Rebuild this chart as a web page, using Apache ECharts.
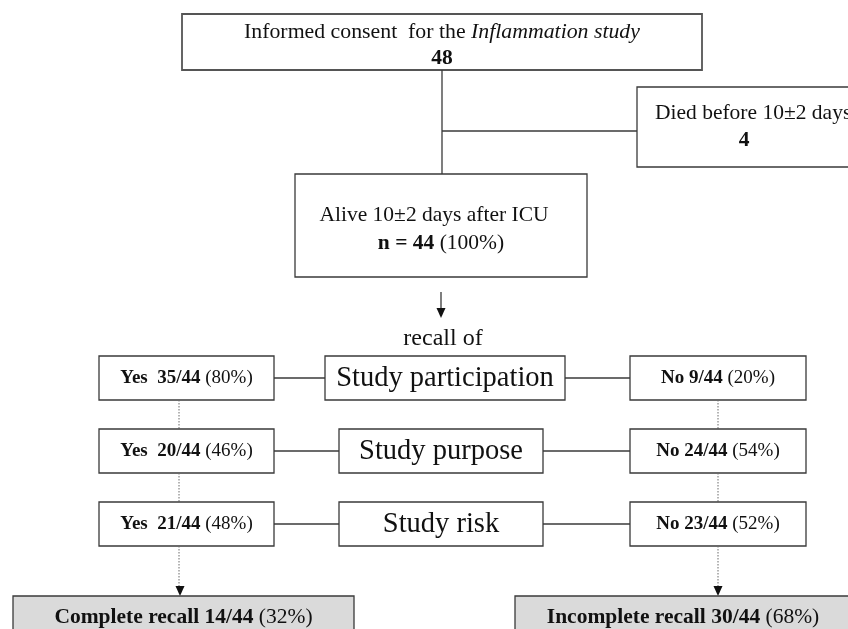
<!DOCTYPE html>
<html><head><meta charset="utf-8">
<script src="https://cdn.jsdelivr.net/npm/echarts@6.0.0/dist/echarts.min.js"></script>
<style>html,body{margin:0;padding:0;background:#fff}#c{width:848px;height:629px}</style>
</head><body><div id="c"></div><script>
// ---- data ----
const consentLabel = 'Informed consent  for the ';
const studyName = 'Inflammation study';
const consentN = 48;
const diedLabel = 'Died before 10\u00b12 days';
const diedN = 4;
const aliveLabel = 'Alive 10\u00b12 days after ICU';
const aliveN = 44;
const alivePct = 100;
const recallTitle = 'recall of';
const recallItems = ['Study participation', 'Study purpose', 'Study risk'];
const yesCounts = [35, 20, 21];
const yesPct = [80, 46, 48];
const noCounts = [9, 24, 23];
const noPct = [20, 54, 52];
const outcomeLabels = ['Complete recall', 'Incomplete recall'];
const outcomeCounts = [14, 30];
const outcomePct = [32, 68];

// ---- layout / style ----
const FONT = 'Liberation Serif';
const LINE = '#3a3a3a';
const rowTop = [356, 429, 502];
const rowH = 44;
const midBox = [[325, 240], [339, 204], [339, 204]];
const yesBox = [99, 175];
const noBox = [630, 176];
const leftX = 179, rightX = 718;

function rect(x, y, w, h, o) {
  o = o || {};
  return {type: 'rect', shape: {x, y, width: w, height: h},
    style: {fill: o.fill || '#fff', stroke: o.stroke || LINE, lineWidth: o.lw || 1.3}};
}
function line(x1, y1, x2, y2, dash) {
  return {type: 'line', shape: {x1, y1, x2, y2},
    style: {stroke: dash ? '#6a6a6a' : LINE, lineWidth: dash ? 1 : 1.3, lineDash: dash ? [1.5, 1.5] : null}};
}
function rich(size) {
  return {
    b: {fontFamily: FONT, fontSize: size, fontWeight: 'bold', fill: '#111'},
    i: {fontFamily: FONT, fontSize: size, fontStyle: 'italic', fill: '#111'},
    n: {fontFamily: FONT, fontSize: size, fill: '#111'}
  };
}
function txt(x, y, text, size, align) {
  return {type: 'text', x, y, style: {text, fontFamily: FONT, fontSize: size, fill: '#111',
    align: align || 'center', verticalAlign: 'middle', rich: rich(size)}};
}
function head(x, y) {
  return {type: 'polygon', shape: {points: [[x - 4.5, y - 10], [x + 4.5, y - 10], [x, y]]}, style: {fill: '#111'}};
}

const els = [];
// top box
els.push(rect(182, 14, 520, 56, {stroke: '#555', lw: 1.8}));
els.push(txt(442, 32, '{n|' + consentLabel + '}{i|' + studyName + '}', 21.8));
els.push(txt(442, 58, '{b|' + consentN + '}', 21.5));
els.push(line(442, 70, 442, 174));
els.push(line(442, 131, 637, 131));
// died box
els.push(rect(637, 87, 230, 80));
els.push(txt(655, 113, diedLabel, 21.5, 'left'));
els.push(txt(744, 140, '{b|' + diedN + '}', 21.5));
// alive box
els.push(rect(295, 174, 292, 103));
els.push(txt(434, 215, aliveLabel, 21.5));
els.push(txt(441, 243, '{b|n = ' + aliveN + '} (' + alivePct + '%)', 21.5));
// arrow + recall of
els.push(line(441, 292, 441, 312));
els.push(head(441, 318));
els.push(txt(443, 339, recallTitle, 24));
// rows
recallItems.forEach((item, i) => {
  const y = rowTop[i], cy = y + rowH / 2;
  const [mx, mw] = midBox[i];
  els.push(rect(yesBox[0], y, yesBox[1], rowH));
  els.push(rect(mx, y, mw, rowH));
  els.push(rect(noBox[0], y, noBox[1], rowH));
  els.push(line(yesBox[0] + yesBox[1], cy, mx, cy));
  els.push(line(mx + mw, cy, noBox[0], cy));
  els.push(txt(yesBox[0] + yesBox[1] / 2, cy, '{b|Yes  ' + yesCounts[i] + '/44} (' + yesPct[i] + '%)', 19));
  els.push(txt(mx + mw / 2, cy + 1, item, 28.5));
  els.push(txt(noBox[0] + noBox[1] / 2, cy, '{b|No ' + noCounts[i] + '/44} (' + noPct[i] + '%)', 19));
  if (i < recallItems.length - 1) {
    els.push(line(leftX, y + rowH, leftX, rowTop[i + 1], true));
    els.push(line(rightX, y + rowH, rightX, rowTop[i + 1], true));
  }
});
// final dotted arrows
const lastBottom = rowTop[2] + rowH;
els.push(line(leftX, lastBottom, leftX, 587, true));
els.push(head(leftX + 1, 596));
els.push(line(rightX, lastBottom, rightX, 587, true));
els.push(head(rightX, 596));
// outcome boxes
const outBoxes = [[13, 341], [515, 336]];
outcomeLabels.forEach((lab, i) => {
  const [bx, bw] = outBoxes[i];
  els.push(rect(bx, 596, bw, 60, {fill: '#dadada'}));
  els.push(txt(bx + bw / 2, 617, '{b|' + lab + ' ' + outcomeCounts[i] + '/44} (' + outcomePct[i] + '%)', 21.5));
});

const chart = echarts.init(document.getElementById('c'));
chart.setOption({backgroundColor: '#fff', animation: false, graphic: {elements: els}});
</script></body></html>
